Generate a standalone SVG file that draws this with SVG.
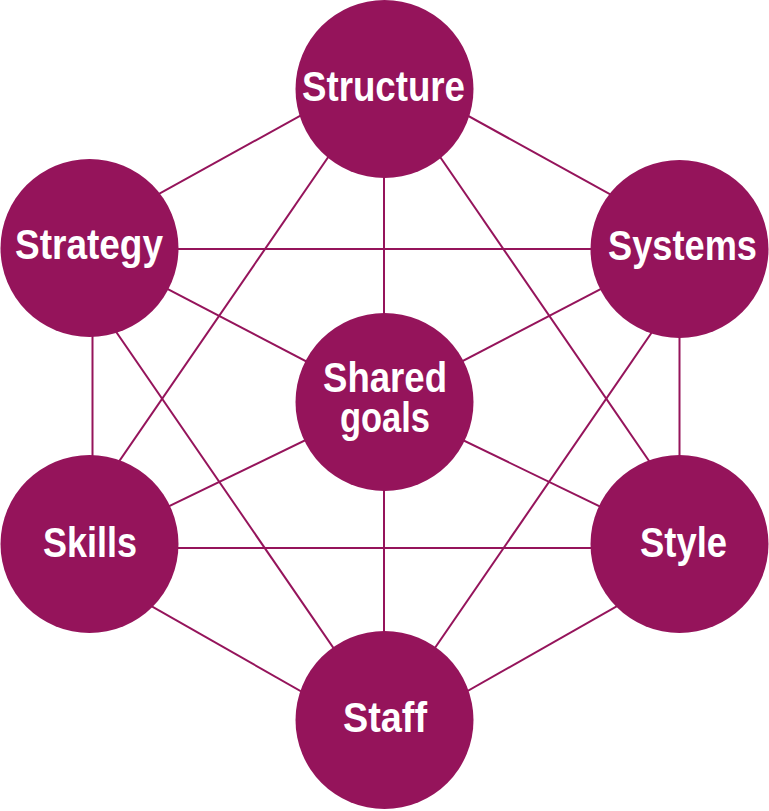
<svg xmlns="http://www.w3.org/2000/svg" width="769" height="811" viewBox="0 0 769 811">
<style>
.c{fill:#95145B}
.l{stroke:#95145B;stroke-width:2;fill:none}
.t{font-family:"Liberation Sans",Arial,sans-serif;font-weight:bold;font-size:43px;fill:#ffffff;text-anchor:middle}
</style>
<rect width="769" height="811" fill="#ffffff"/>
<g id="connectors" class="l">
<line x1="89" y1="232.6" x2="384" y2="69.4"/>
<line x1="384" y1="69.4" x2="679.5" y2="232.6"/>
<line x1="384" y1="89" x2="384" y2="402"/>
<line x1="375" y1="89" x2="61.6" y2="545"/>
<line x1="393.4" y1="89" x2="706.8" y2="545"/>
<line x1="89" y1="249" x2="679.5" y2="249"/>
<line x1="89" y1="248" x2="384" y2="402"/>
<line x1="92.5" y1="248" x2="92.5" y2="545"/>
<line x1="58.5" y1="248" x2="383" y2="720"/>
<line x1="679.5" y1="248" x2="384" y2="402"/>
<line x1="679.5" y1="248" x2="679.5" y2="545"/>
<line x1="709.8" y1="248" x2="385.4" y2="720"/>
<line x1="89" y1="545" x2="384" y2="402"/>
<line x1="679.5" y1="545" x2="384" y2="402"/>
<line x1="384" y1="402" x2="384" y2="720"/>
<line x1="89" y1="548" x2="679.5" y2="548"/>
<line x1="89" y1="570.7" x2="384" y2="738.5"/>
<line x1="679.5" y1="570.7" x2="384" y2="738.5"/>
</g>
<g id="structure"><circle class="c" cx="384.5" cy="89" r="89"/><text class="t" x="383.5" y="101" textLength="163" lengthAdjust="spacingAndGlyphs">Structure</text></g>
<g id="strategy"><circle class="c" cx="89.5" cy="248" r="89"/><text class="t" x="89" y="259" textLength="148" lengthAdjust="spacingAndGlyphs">Strategy</text></g>
<g id="systems"><circle class="c" cx="679.5" cy="249" r="89"/><text class="t" x="682.5" y="260" textLength="149" lengthAdjust="spacingAndGlyphs">Systems</text></g>
<g id="shared-goals"><circle class="c" cx="384.5" cy="402" r="89"/><text class="t" x="385" y="392" textLength="124" lengthAdjust="spacingAndGlyphs">Shared</text><text class="t" x="385" y="432" textLength="90" lengthAdjust="spacingAndGlyphs">goals</text></g>
<g id="skills"><circle class="c" cx="89.5" cy="544" r="89"/><text class="t" x="90" y="557" textLength="94" lengthAdjust="spacingAndGlyphs">Skills</text></g>
<g id="style"><circle class="c" cx="679.5" cy="544" r="89"/><text class="t" x="683.5" y="557" textLength="87" lengthAdjust="spacingAndGlyphs">Style</text></g>
<g id="staff"><circle class="c" cx="384.5" cy="720" r="89"/><text class="t" x="385" y="732" textLength="84" lengthAdjust="spacingAndGlyphs">Staff</text></g>
</svg>
